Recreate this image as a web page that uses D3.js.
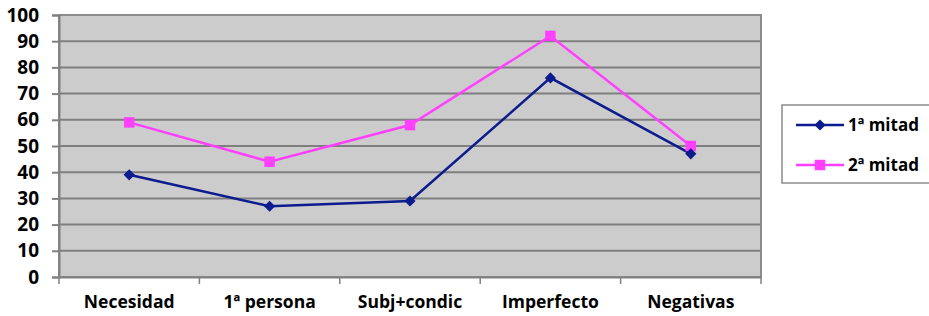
<!DOCTYPE html>
<html>
<head>
<meta charset="utf-8">
<script src="https://cdn.jsdelivr.net/npm/d3@7"></script>
<style>
  body { margin: 0; background: #fff; }
  text { font-family: "Open Sans", "DejaVu Sans", sans-serif; font-weight: bold; fill: #000; }
</style>
</head>
<body>
<svg id="chart"></svg>
<script>
/* ---------- 数据 ---------- */
var categories = ["Necesidad", "1ª persona", "Subj+condic", "Imperfecto", "Negativas"];
var serie1 = [39, 27, 29, 76, 47];
var serie2 = [59, 44, 58, 92, 50];
var seriesNames = ["1ª mitad", "2ª mitad"];
var yTicks = [0, 10, 20, 30, 40, 50, 60, 70, 80, 90, 100];

/* ---------- 尺寸和颜色 ---------- */
var WIDTH = 929, HEIGHT = 316;
var plot = {left: 59, top: 15, right: 761, bottom: 277};
var color1 = "#0c1b8e", color2 = "#ff40ff";

var svg = d3.select("#chart").attr("width", WIDTH).attr("height", HEIGHT);

var x = d3.scaleBand().domain(categories).range([plot.left, plot.right]);
var y = d3.scaleLinear().domain([0, 100]).range([plot.bottom, plot.top]);

// 背景
svg.append("rect")
    .attr("x", plot.left).attr("y", plot.top)
    .attr("width", plot.right - plot.left).attr("height", plot.bottom - plot.top)
    .attr("fill", "#cccccc");

// 网格线
svg.append("g").selectAll("line")
    .data(yTicks.filter(function(d) { return d > 0; }))
    .enter().append("line")
    .attr("x1", plot.left).attr("x2", plot.right)
    .attr("y1", function(d) { return y(d); }).attr("y2", function(d) { return y(d); })
    .attr("stroke", "#7f7f7f").attr("stroke-width", 2);

// 边框
svg.append("rect")
    .attr("x", plot.left).attr("y", plot.top)
    .attr("width", plot.right - plot.left).attr("height", plot.bottom - plot.top)
    .attr("fill", "none").attr("stroke", "#8c8c8c").attr("stroke-width", 2);

// Y轴
var yAxis = svg.append("g")
    .attr("transform", "translate(" + plot.left + ",0)")
    .call(d3.axisLeft(y).tickValues(yTicks).tickSize(7).tickPadding(13));
yAxis.select(".domain").attr("stroke", "#808080").attr("stroke-width", 2);
yAxis.selectAll(".tick line").attr("stroke", "#808080").attr("stroke-width", 2);
yAxis.selectAll("text").style("font-size", "19px").attr("fill", "#000");

// X轴
var xAxis = svg.append("g")
    .attr("transform", "translate(0," + plot.bottom + ")")
    .call(d3.axisBottom(x).tickSize(0).tickPadding(19));
xAxis.select(".domain").attr("stroke", "#808080").attr("stroke-width", 2);
xAxis.selectAll("text").style("font-size", "17.5px").attr("fill", "#000");
svg.append("g").selectAll("line")
    .data(categories.concat(["end"]))
    .enter().append("line")
    .attr("x1", function(d, i) { return plot.left + i * x.step(); })
    .attr("x2", function(d, i) { return plot.left + i * x.step(); })
    .attr("y1", plot.bottom).attr("y2", plot.bottom + 7)
    .attr("stroke", "#808080").attr("stroke-width", 1.5);

// 折线
var line = d3.line()
    .x(function(d, i) { return x(categories[i]) + x.bandwidth() / 2; })
    .y(function(d) { return y(d); });

svg.append("path").datum(serie2)
    .attr("d", line).attr("fill", "none").attr("stroke", color2).attr("stroke-width", 2.5);
svg.append("path").datum(serie1)
    .attr("d", line).attr("fill", "none").attr("stroke", color1).attr("stroke-width", 2.5);

var diamond = d3.symbol().type(d3.symbolDiamond2).size(80);
var square = d3.symbol().type(d3.symbolSquare).size(110);

svg.append("g").selectAll("path").data(serie2).enter().append("path")
    .attr("d", square)
    .attr("transform", function(d, i) { return "translate(" + (x(categories[i]) + x.bandwidth() / 2) + "," + y(d) + ")"; })
    .attr("fill", color2);
svg.append("g").selectAll("path").data(serie1).enter().append("path")
    .attr("d", diamond)
    .attr("transform", function(d, i) { return "translate(" + (x(categories[i]) + x.bandwidth() / 2) + "," + y(d) + ")"; })
    .attr("fill", color1);

// 图例
var legend = svg.append("g");
legend.append("rect")
    .attr("x", 782).attr("y", 105).attr("width", 160).attr("height", 78)
    .attr("fill", "#fff").attr("stroke", "#8c8c8c").attr("stroke-width", 1.5);

var items = [
    {name: seriesNames[0], color: color1, symbol: diamond, y: 125},
    {name: seriesNames[1], color: color2, symbol: square, y: 165}
];
items.forEach(function(it) {
    legend.append("line")
        .attr("x1", 796).attr("x2", 844).attr("y1", it.y).attr("y2", it.y)
        .attr("stroke", it.color).attr("stroke-width", 2.5);
    legend.append("path").attr("d", it.symbol)
        .attr("transform", "translate(820," + it.y + ")").attr("fill", it.color);
    legend.append("text")
        .attr("x", 848).attr("y", it.y).attr("dy", "0.35em")
        .style("font-size", "17px").text(it.name);
});
</script>
</body>
</html>
